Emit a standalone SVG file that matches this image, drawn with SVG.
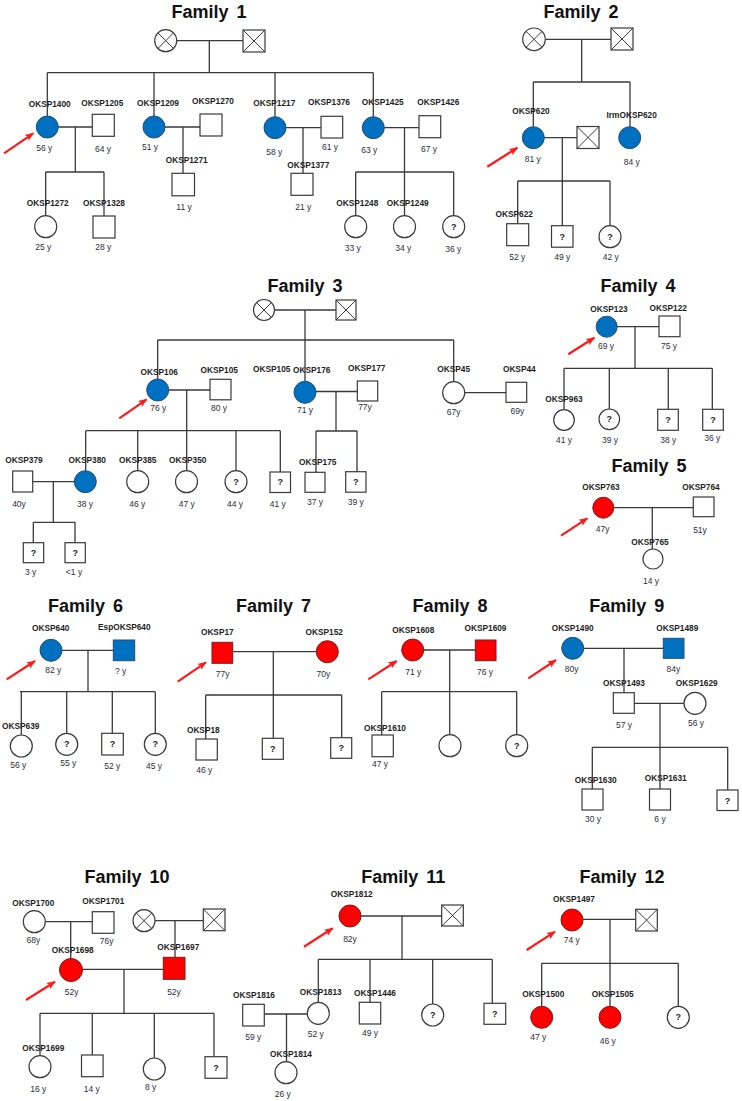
<svg xmlns="http://www.w3.org/2000/svg" width="742" height="1101" viewBox="0 0 742 1101">
<style>
.ln{stroke:#3a3a3a;stroke-width:1.3;fill:none}
.nd{stroke:#3a3a3a;stroke-width:1.2;fill:#fff}
.bl{fill:#0070C0;stroke:#1F4E79;stroke-width:1}
.rd{fill:#FF0000;stroke:#7a1a1a;stroke-width:1}
.x{stroke:#3a3a3a;stroke-width:1}
.id{font-family:"Liberation Sans",Arial,sans-serif;font-weight:bold;font-size:8.3px;fill:#1e1e1e;text-anchor:middle}
.age{font-family:"Liberation Sans",Arial,sans-serif;font-size:8.5px;fill:#2d2d3a;text-anchor:middle}
.q{font-family:"Liberation Sans",Arial,sans-serif;font-weight:bold;font-size:9px;fill:#1e1e1e;text-anchor:middle}
.ttl{font-family:"Liberation Sans",Arial,sans-serif;font-weight:bold;font-size:18px;fill:#111;text-anchor:middle;word-spacing:3px}
.arr{stroke:#FF1A1A;stroke-width:2.2;fill:none;marker-end:url(#ah)}
</style>
<defs>
<marker id="ah" viewBox="0 0 10 8" refX="9" refY="4" markerWidth="9" markerHeight="8" markerUnits="userSpaceOnUse" orient="auto">
<path d="M0,0 L10,4 L0,8 L2,4 z" fill="#FF1A1A"/>
</marker>
</defs>
<rect width="742" height="1101" fill="#fff"/>

<g id="titles">
<text class="ttl" x="209" y="17.5">Family 1</text>
<text class="ttl" x="581" y="18">Family 2</text>
<text class="ttl" x="305" y="291.5">Family 3</text>
<text class="ttl" x="638" y="291.5">Family 4</text>
<text class="ttl" x="649" y="471.7">Family 5</text>
<text class="ttl" x="85.5" y="611.7">Family 6</text>
<text class="ttl" x="273.5" y="611.7">Family 7</text>
<text class="ttl" x="450" y="611.7">Family 8</text>
<text class="ttl" x="626.7" y="611.7">Family 9</text>
<text class="ttl" x="127" y="883.3">Family 10</text>
<text class="ttl" x="403.3" y="883.3">Family 11</text>
<text class="ttl" x="622" y="883.3">Family 12</text>
</g>

<g id="connectors" class="ln">
<!-- Family 1 -->
<path d="M176.7,40.7H243M209.3,40.7V72.7M47.3,72.7H373.3M47.3,72.7V116M154,72.7V116M275,72.7V116.7M373.3,72.7V116.7"/>
<path d="M58.3,127H92.3M75.3,127V172M45.7,172H104M45.7,172V215.7M104,172V216"/>
<path d="M165,127H200M183,127V173.3"/>
<path d="M286,127.7H321M303,127.7V173.3"/>
<path d="M384.3,127.7H419M404.5,127.7V172M355.7,172H453.7M355.7,172V215.7M404.5,172V215.7M453.7,172V215.7"/>
<!-- Family 2 -->
<path d="M545.3,39.3H611M581.7,39.3V82M533.3,82H630M533.3,82V126.7M630,82V126.7"/>
<path d="M544.3,137.7H577M562.3,137.7V181M517.7,181H610M517.7,181V223.7M562.3,181V225.7M610,181V225.7"/>
<!-- Family 3 -->
<path d="M274.5,310H336M305,310V340M157.7,340H453.7M157.7,340V379M305,340V381.3M453.7,340V382"/>
<path d="M168.7,390H210M186.7,390V430.7M85.7,430.7H280.3M85.7,430.7V470.7M137.7,430.7V470.7M186.7,430.7V470.7M236,430.7V470.7M280.3,430.7V472"/>
<path d="M32.7,481.7H74.3M53.3,481.7V522.3M33.3,522.3H75M33.3,522.3V542.7M75,522.3V542.7"/>
<path d="M316,391.5H357.3M336,391.5V431M316,431H357M316,431V472.3M357,431V471.7"/>
<path d="M464.7,392.7H506"/>
<!-- Family 4 -->
<path d="M617.2,326.7H659M635,326.7V368.3M564,368.3H712.3M564,368.3V409.7M609.3,368.3V409M668.3,368.3V409.3M712.3,368.3V409.3"/>
<!-- Family 5 -->
<path d="M613.8,507.7H693.3M652.3,507.7V549"/>
<!-- Family 6 -->
<path d="M62,650.3H113.3M88,650.3V691.7M20,691.7H155.3M21.3,691.7V735M66.7,691.7V733.3M112.3,691.7V733.3M155.3,691.7V733.3"/>
<!-- Family 7 -->
<path d="M232.7,651.7H316.3M273.3,651.7V695M205.7,695H341.7M205.7,695V739M273.3,695V738.3M341.7,695V737.7"/>
<!-- Family 8 -->
<path d="M423.7,650H475.3M449.7,650V734.7M381.7,691.7H516.7M381.7,691.7V735M516.7,691.7V734.7"/>
<!-- Family 9 -->
<path d="M583.7,648.3H663.3M624,648.3V692.7"/>
<path d="M634.3,703.3H684M660,703.3V747.3M592.3,747.3H727.7M592.3,747.3V789M660,747.3V789M727.7,747.3V790"/>
<!-- Family 10 -->
<path d="M45.3,921.7H92.3M70.7,921.7V958.5"/>
<path d="M155,920.7H203.3M175,920.7V957.3"/>
<path d="M82.5,969.3H163.3M124,969.3V1013.3M40,1013.3H214M40,1013.3V1055.7M92.3,1013.3V1055M154.3,1013.3V1058M214,1013.3V1056.7"/>
<!-- Family 11 -->
<path d="M361,916H441.7M402,916V959.3M318.3,959.3H492.3M318.3,959.3V1002.3M370,959.3V1002.3M432.7,959.3V1004M492.3,959.3V1003.3"/>
<path d="M264.3,1014H307.3M286.5,1014V1061.7"/>
<!-- Family 12 -->
<path d="M583,919.3H635.7M610,919.3V1006.3M541.7,963.3H678.3M541.7,963.3V1006.3M678.3,963.3V1006.3"/>
</g>

<g id="proband-arrows">
<line class="arr" x1="4" y1="153.3" x2="33.3" y2="133.3"/>
<line class="arr" x1="487.3" y1="166.7" x2="517.3" y2="147.7"/>
<line class="arr" x1="119.3" y1="418.3" x2="146.7" y2="399.3"/>
<line class="arr" x1="568.3" y1="354.3" x2="594.3" y2="337.7"/>
<line class="arr" x1="561" y1="535.7" x2="587.3" y2="518.3"/>
<line class="arr" x1="6.7" y1="679.3" x2="35" y2="661"/>
<line class="arr" x1="177.7" y1="681.7" x2="206" y2="662.3"/>
<line class="arr" x1="368.3" y1="679.3" x2="396.7" y2="661"/>
<line class="arr" x1="528.3" y1="678.3" x2="556" y2="660"/>
<line class="arr" x1="26" y1="1000" x2="55" y2="981.7"/>
<line class="arr" x1="304" y1="946.7" x2="332.7" y2="928.3"/>
<line class="arr" x1="526.7" y1="950" x2="555" y2="931.7"/>
</g>

<!-- ===== Family 1 ===== -->
<g id="f1-gm"><circle class="nd" cx="165.7" cy="40.7" r="11"/><path class="x" d="M157.9,32.9L173.5,48.5M173.5,32.9L157.9,48.5"/></g>
<g id="f1-gf"><rect class="nd" x="243" y="30" width="22" height="22"/><path class="x" d="M243,30L265,52M265,30L243,52"/></g>
<g id="OKSP1400"><circle class="bl" cx="47.3" cy="127" r="11"/><text class="id" x="49.7" y="107">OKSP1400</text><text class="age" x="44.3" y="151">56 y</text></g>
<g id="OKSP1205"><rect class="nd" x="92.3" y="114.3" width="22" height="22"/><text class="id" x="102.3" y="106">OKSP1205</text><text class="age" x="103" y="152">64 y</text></g>
<g id="OKSP1209"><circle class="bl" cx="154" cy="127" r="11"/><text class="id" x="158" y="106">OKSP1209</text><text class="age" x="150" y="150">51 y</text></g>
<g id="OKSP1270"><rect class="nd" x="200" y="114" width="22" height="22"/><text class="id" x="213" y="104">OKSP1270</text></g>
<g id="OKSP1271"><rect class="nd" x="172" y="173.3" width="22.5" height="22.5"/><text class="id" x="186.7" y="163">OKSP1271</text><text class="age" x="184" y="210">11 y</text></g>
<g id="OKSP1272"><circle class="nd" cx="45.7" cy="226.7" r="11"/><text class="id" x="47.7" y="206">OKSP1272</text><text class="age" x="43.3" y="250">25 y</text></g>
<g id="OKSP1328"><rect class="nd" x="93" y="216" width="22" height="22"/><text class="id" x="104" y="206">OKSP1328</text><text class="age" x="103.3" y="250">28 y</text></g>
<g id="OKSP1217"><circle class="bl" cx="275" cy="127.7" r="11"/><text class="id" x="274.3" y="106">OKSP1217</text><text class="age" x="274.3" y="155">58 y</text></g>
<g id="OKSP1376"><rect class="nd" x="321" y="116.3" width="21.7" height="21.7"/><text class="id" x="329" y="105">OKSP1376</text><text class="age" x="330" y="150">61 y</text></g>
<g id="OKSP1377"><rect class="nd" x="291" y="173.3" width="22" height="22"/><text class="id" x="308.3" y="168">OKSP1377</text><text class="age" x="303.3" y="210">21 y</text></g>
<g id="OKSP1425"><circle class="bl" cx="373.3" cy="127.7" r="11"/><text class="id" x="382.7" y="105">OKSP1425</text><text class="age" x="369.3" y="153">63 y</text></g>
<g id="OKSP1426"><rect class="nd" x="419" y="115.7" width="21.7" height="22"/><text class="id" x="438.3" y="105">OKSP1426</text><text class="age" x="429" y="152">67 y</text></g>
<g id="OKSP1248"><circle class="nd" cx="355.7" cy="226.7" r="11"/><text class="id" x="357.3" y="206">OKSP1248</text><text class="age" x="352.7" y="251">33 y</text></g>
<g id="OKSP1249"><circle class="nd" cx="404.5" cy="226.7" r="11"/><text class="id" x="407.7" y="206">OKSP1249</text><text class="age" x="403.3" y="251">34 y</text></g>
<g id="f1-q36"><circle class="nd" cx="453.7" cy="226.7" r="11"/><text class="q" x="453.7" y="229.8">?</text><text class="age" x="453.3" y="252">36 y</text></g>

<!-- ===== Family 2 ===== -->
<g id="f2-gm"><circle class="nd" cx="534" cy="39.3" r="11.3"/><path class="x" d="M526,31.3L542,47.3M542,31.3L526,47.3"/></g>
<g id="f2-gf"><rect class="nd" x="611" y="28" width="22" height="22"/><path class="x" d="M611,28L633,50M633,28L611,50"/></g>
<g id="OKSP620"><circle class="bl" cx="533.3" cy="137.7" r="11"/><text class="id" x="531" y="114">OKSP620</text><text class="age" x="532.7" y="162">81 y</text></g>
<g id="f2-spouse"><rect class="nd" x="577" y="126.5" width="22" height="22"/><path class="x" d="M577,126.5L599,148.5M599,126.5L577,148.5"/></g>
<g id="IrmOKSP620"><circle class="bl" cx="629.7" cy="137.7" r="11"/><text class="id" x="631.7" y="118">IrmOKSP620</text><text class="age" x="631.7" y="165">84 y</text></g>
<g id="OKSP622"><rect class="nd" x="506.7" y="223.7" width="22" height="22"/><text class="id" x="514.3" y="217">OKSP622</text><text class="age" x="517.3" y="260">52 y</text></g>
<g id="f2-q49"><rect class="nd" x="551.5" y="225.7" width="21.5" height="21.5"/><text class="q" x="562.3" y="239.6">?</text><text class="age" x="562.3" y="260">49 y</text></g>
<g id="f2-q42"><circle class="nd" cx="610" cy="236.7" r="11"/><text class="q" x="610" y="239.8">?</text><text class="age" x="610.7" y="260">42 y</text></g>

<!-- ===== Family 3 ===== -->
<g id="f3-gm"><circle class="nd" cx="264" cy="310" r="10.5"/><path class="x" d="M256.6,302.6L271.4,317.4M271.4,302.6L256.6,317.4"/></g>
<g id="f3-gf"><rect class="nd" x="336" y="300" width="20" height="20"/><path class="x" d="M336,300L356,320M356,300L336,320"/></g>
<g id="OKSP106"><circle class="bl" cx="157.7" cy="390" r="11"/><text class="id" x="159.3" y="375">OKSP106</text><text class="age" x="158.3" y="411">76 y</text></g>
<g id="OKSP105"><rect class="nd" x="210" y="379.3" width="21" height="20.5"/><text class="id" x="219.3" y="373">OKSP105</text><text class="age" x="219" y="411">80 y</text></g>
<g id="OKSP379"><rect class="nd" x="12.7" y="471" width="20" height="21"/><text class="id" x="24" y="463">OKSP379</text><text class="age" x="19" y="507">40y</text></g>
<g id="OKSP380"><circle class="bl" cx="85.3" cy="481.7" r="11"/><text class="id" x="87.3" y="463">OKSP380</text><text class="age" x="85" y="507">38 y</text></g>
<g id="OKSP385"><circle class="nd" cx="137.7" cy="481.7" r="11"/><text class="id" x="137.7" y="463">OKSP385</text><text class="age" x="137.3" y="507">46 y</text></g>
<g id="OKSP350"><circle class="nd" cx="186.5" cy="481.7" r="11"/><text class="id" x="187.7" y="463">OKSP350</text><text class="age" x="186.7" y="507">47 y</text></g>
<g id="f3-q44"><circle class="nd" cx="236" cy="481.7" r="11"/><text class="q" x="236" y="484.8">?</text><text class="age" x="235" y="507">44 y</text></g>
<g id="f3-q41"><rect class="nd" x="270" y="472" width="20.5" height="20.5"/><text class="q" x="280.2" y="485.4">?</text><text class="age" x="277.7" y="507">41 y</text></g>
<g id="f3-q3"><rect class="nd" x="23.3" y="542.7" width="20.4" height="20"/><text class="q" x="33.5" y="555.8">?</text><text class="age" x="30.7" y="575">3 y</text></g>
<g id="f3-q1"><rect class="nd" x="65" y="542.7" width="20.3" height="20"/><text class="q" x="75.2" y="555.8">?</text><text class="age" x="74" y="575">&lt;1 y</text></g>
<g id="OKSP105-b"><text class="id" x="271.7" y="372">OKSP105</text></g>
<g id="OKSP176"><circle class="bl" cx="305" cy="392.3" r="11"/><text class="id" x="311.7" y="372.5">OKSP176</text><text class="age" x="305" y="413">71 y</text></g>
<g id="OKSP177"><rect class="nd" x="357.3" y="381" width="20.4" height="20"/><text class="id" x="366.7" y="371">OKSP177</text><text class="age" x="365" y="410">77y</text></g>
<g id="OKSP175"><rect class="nd" x="305" y="472.3" width="20" height="20"/><text class="id" x="317.7" y="465">OKSP175</text><text class="age" x="315" y="505">37 y</text></g>
<g id="f3-q39"><rect class="nd" x="345.7" y="471.7" width="20.3" height="20.5"/><text class="q" x="355.8" y="485">?</text><text class="age" x="355.7" y="505">39 y</text></g>
<g id="OKSP45"><circle class="nd" cx="453.7" cy="392.7" r="11"/><text class="id" x="453.7" y="372">OKSP45</text><text class="age" x="453.7" y="415">67y</text></g>
<g id="OKSP44"><rect class="nd" x="506" y="382.3" width="20.7" height="20"/><text class="id" x="519.3" y="372">OKSP44</text><text class="age" x="517.3" y="414">69y</text></g>

<!-- ===== Family 4 ===== -->
<g id="OKSP123"><circle class="bl" cx="606.7" cy="326.7" r="10.5"/><text class="id" x="609" y="312">OKSP123</text><text class="age" x="606" y="349">69 y</text></g>
<g id="OKSP122"><rect class="nd" x="659" y="316" width="21" height="20.7"/><text class="id" x="668.3" y="311">OKSP122</text><text class="age" x="669" y="349">75 y</text></g>
<g id="OKSP963"><circle class="nd" cx="564" cy="420" r="10.3"/><text class="id" x="564" y="402">OKSP963</text><text class="age" x="564" y="443">41 y</text></g>
<g id="f4-q39"><circle class="nd" cx="609.3" cy="419.3" r="10.3"/><text class="q" x="609.3" y="422.4">?</text><text class="age" x="610" y="443">39 y</text></g>
<g id="f4-q38"><rect class="nd" x="657.7" y="409.3" width="20.6" height="21"/><text class="q" x="668" y="423">?</text><text class="age" x="668.3" y="443">38 y</text></g>
<g id="f4-q36"><rect class="nd" x="702.7" y="409.3" width="20.6" height="21"/><text class="q" x="713" y="423">?</text><text class="age" x="712.3" y="441">36 y</text></g>

<!-- ===== Family 5 ===== -->
<g id="OKSP763"><circle class="rd" cx="603.3" cy="507.7" r="10.5"/><text class="id" x="601" y="490">OKSP763</text><text class="age" x="602.7" y="532">47y</text></g>
<g id="OKSP764"><rect class="nd" x="693.3" y="497" width="20.7" height="19.7"/><text class="id" x="701" y="490">OKSP764</text><text class="age" x="700" y="533">51y</text></g>
<g id="OKSP765"><circle class="nd" cx="653" cy="559" r="10"/><text class="id" x="650" y="545">OKSP765</text><text class="age" x="651" y="584">14 y</text></g>

<!-- ===== Family 6 ===== -->
<g id="OKSP640"><circle class="bl" cx="51" cy="650.3" r="11"/><text class="id" x="50.7" y="631">OKSP640</text><text class="age" x="53.3" y="673">82 y</text></g>
<g id="EspOKSP640"><rect class="bl" x="113.3" y="640" width="21.4" height="20.7"/><text class="id" x="124.3" y="630">EspOKSP640</text><text class="age" x="120.7" y="674">? y</text></g>
<g id="OKSP639"><circle class="nd" cx="21.3" cy="746" r="11"/><text class="id" x="20.7" y="729">OKSP639</text><text class="age" x="18.3" y="768">56 y</text></g>
<g id="f6-q55"><circle class="nd" cx="66.7" cy="744.3" r="11"/><text class="q" x="66.7" y="747.4">?</text><text class="age" x="68.3" y="766">55 y</text></g>
<g id="f6-q52"><rect class="nd" x="101.7" y="733.3" width="21.6" height="21.7"/><text class="q" x="112.5" y="747.4">?</text><text class="age" x="112.3" y="769">52 y</text></g>
<g id="f6-q45"><circle class="nd" cx="155.3" cy="744.3" r="11"/><text class="q" x="155.3" y="747.4">?</text><text class="age" x="154" y="769">45 y</text></g>

<!-- ===== Family 7 ===== -->
<g id="OKSP17"><rect class="rd" x="212" y="642.3" width="20.7" height="21"/><text class="id" x="217.3" y="635">OKSP17</text><text class="age" x="222.7" y="677">77y</text></g>
<g id="OKSP152"><circle class="rd" cx="327.3" cy="651.7" r="11"/><text class="id" x="324.3" y="635">OKSP152</text><text class="age" x="323.3" y="677">70y</text></g>
<g id="OKSP18"><rect class="nd" x="196" y="739" width="21.3" height="21"/><text class="id" x="203.3" y="733">OKSP18</text><text class="age" x="204.3" y="773">46 y</text></g>
<g id="f7-q1"><rect class="nd" x="262.3" y="738.3" width="21" height="21"/><text class="q" x="272.8" y="752">?</text></g>
<g id="f7-q2"><rect class="nd" x="330.7" y="737.7" width="21" height="20.6"/><text class="q" x="341.2" y="751.2">?</text></g>

<!-- ===== Family 8 ===== -->
<g id="OKSP1608"><circle class="rd" cx="412.7" cy="650" r="11"/><text class="id" x="413.3" y="633">OKSP1608</text><text class="age" x="413.3" y="675">71 y</text></g>
<g id="OKSP1609"><rect class="rd" x="475.3" y="640" width="20.7" height="20.7"/><text class="id" x="485.5" y="631">OKSP1609</text><text class="age" x="485" y="675">76 y</text></g>
<g id="OKSP1610"><rect class="nd" x="372" y="735" width="21.3" height="21.7"/><text class="id" x="385" y="731">OKSP1610</text><text class="age" x="380" y="767">47 y</text></g>
<g id="f8-c2"><circle class="nd" cx="450" cy="745.7" r="11"/></g>
<g id="f8-q"><circle class="nd" cx="516.7" cy="745.7" r="11"/><text class="q" x="516.7" y="748.8">?</text></g>

<!-- ===== Family 9 ===== -->
<g id="OKSP1490"><circle class="bl" cx="572.7" cy="648.3" r="11"/><text class="id" x="572.7" y="631">OKSP1490</text><text class="age" x="571.7" y="672">80y</text></g>
<g id="OKSP1489"><rect class="bl" x="663.3" y="638.3" width="20.7" height="20"/><text class="id" x="677.3" y="631">OKSP1489</text><text class="age" x="673.3" y="672">84y</text></g>
<g id="OKSP1493"><rect class="nd" x="613.3" y="692.7" width="21" height="20.6"/><text class="id" x="624" y="686">OKSP1493</text><text class="age" x="624" y="728">57 y</text></g>
<g id="OKSP1629"><circle class="nd" cx="695" cy="703.3" r="11"/><text class="id" x="696.7" y="686">OKSP1629</text><text class="age" x="696" y="726">56 y</text></g>
<g id="OKSP1630"><rect class="nd" x="582" y="789" width="21" height="21"/><text class="id" x="595.7" y="783">OKSP1630</text><text class="age" x="593" y="822">30 y</text></g>
<g id="OKSP1631"><rect class="nd" x="649.5" y="789" width="21" height="21"/><text class="id" x="665.7" y="781">OKSP1631</text><text class="age" x="660" y="822">6 y</text></g>
<g id="f9-q"><rect class="nd" x="717" y="790" width="21" height="20.5"/><text class="q" x="727.5" y="803.5">?</text></g>

<!-- ===== Family 10 ===== -->
<g id="OKSP1700"><circle class="nd" cx="34.3" cy="921.7" r="11"/><text class="id" x="33.3" y="905.5">OKSP1700</text><text class="age" x="33.3" y="943">68y</text></g>
<g id="OKSP1701"><rect class="nd" x="92.3" y="911.7" width="21.7" height="21.6"/><text class="id" x="103.3" y="904">OKSP1701</text><text class="age" x="106.7" y="944">76y</text></g>
<g id="f10-gm"><circle class="nd" cx="144" cy="920.7" r="11"/><path class="x" d="M136.2,912.9L151.8,928.5M151.8,912.9L136.2,928.5"/></g>
<g id="f10-gf"><rect class="nd" x="203.3" y="909" width="21.7" height="21.7"/><path class="x" d="M203.3,909L225,930.7M225,909L203.3,930.7"/></g>
<g id="OKSP1698"><circle class="rd" cx="71" cy="970" r="11.5"/><text class="id" x="72.7" y="953">OKSP1698</text><text class="age" x="71.7" y="995">52y</text></g>
<g id="OKSP1697"><rect class="rd" x="163.3" y="957.3" width="21.7" height="22"/><text class="id" x="178.3" y="950">OKSP1697</text><text class="age" x="174" y="995">52y</text></g>
<g id="OKSP1699"><circle class="nd" cx="40" cy="1066.7" r="11"/><text class="id" x="43.3" y="1051">OKSP1699</text><text class="age" x="38.3" y="1092">16 y</text></g>
<g id="f10-c2"><rect class="nd" x="81.5" y="1055" width="21.6" height="21.7"/><text class="age" x="91.7" y="1092">14 y</text></g>
<g id="f10-c3"><circle class="nd" cx="154.3" cy="1069" r="11"/><text class="age" x="150.7" y="1090">8 y</text></g>
<g id="f10-q"><rect class="nd" x="205" y="1056.7" width="22" height="21.6"/><text class="q" x="216" y="1070.6">?</text></g>

<!-- ===== Family 11 ===== -->
<g id="OKSP1812"><circle class="rd" cx="350" cy="916" r="11"/><text class="id" x="351.7" y="897">OKSP1812</text><text class="age" x="350" y="942">82y</text></g>
<g id="f11-spouse"><rect class="nd" x="441.7" y="905" width="21.6" height="21"/><path class="x" d="M441.7,905L463.3,926M463.3,905L441.7,926"/></g>
<g id="OKSP1816"><rect class="nd" x="242.7" y="1004.3" width="21.6" height="21.7"/><text class="id" x="254" y="998">OKSP1816</text><text class="age" x="253.3" y="1040">59 y</text></g>
<g id="OKSP1813"><circle class="nd" cx="318.3" cy="1013.3" r="11"/><text class="id" x="320.7" y="995">OKSP1813</text><text class="age" x="315.7" y="1037">52 y</text></g>
<g id="OKSP1446"><rect class="nd" x="359.3" y="1002.3" width="21.4" height="21.7"/><text class="id" x="375" y="996">OKSP1446</text><text class="age" x="370" y="1036">49 y</text></g>
<g id="f11-q1"><circle class="nd" cx="432.7" cy="1015" r="11"/><text class="q" x="432.7" y="1018.1">?</text></g>
<g id="f11-q2"><rect class="nd" x="484" y="1003.3" width="21.7" height="21"/><text class="q" x="494.8" y="1017">?</text></g>
<g id="OKSP1814"><circle class="nd" cx="286" cy="1072.7" r="11"/><text class="id" x="291" y="1057">OKSP1814</text><text class="age" x="282.7" y="1097">26 y</text></g>

<!-- ===== Family 12 ===== -->
<g id="OKSP1497"><circle class="rd" cx="572" cy="920" r="11"/><text class="id" x="574" y="902">OKSP1497</text><text class="age" x="571.7" y="943">74 y</text></g>
<g id="f12-spouse"><rect class="nd" x="635.7" y="909.3" width="21.6" height="21.7"/><path class="x" d="M635.7,909.3L657.3,931M657.3,909.3L635.7,931"/></g>
<g id="OKSP1500"><circle class="rd" cx="541.7" cy="1017.3" r="11"/><text class="id" x="543.3" y="997">OKSP1500</text><text class="age" x="538.3" y="1040">47 y</text></g>
<g id="OKSP1505"><circle class="rd" cx="610" cy="1017.3" r="11"/><text class="id" x="612.7" y="997">OKSP1505</text><text class="age" x="607.7" y="1044">46 y</text></g>
<g id="f12-q"><circle class="nd" cx="678.3" cy="1017.3" r="11"/><text class="q" x="678.3" y="1020.4">?</text></g>
</svg>
